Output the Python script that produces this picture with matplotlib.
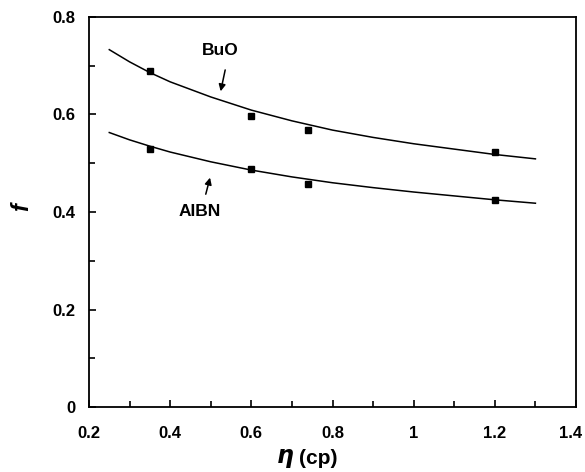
import matplotlib
matplotlib.use("Agg")
import matplotlib.pyplot as plt
from matplotlib.ticker import MultipleLocator, FuncFormatter
from matplotlib.transforms import ScaledTranslation

plt.rcParams['font.family'] = ['Liberation Sans', 'DejaVu Sans']

# measured points
eta_pts = [0.35, 0.60, 0.74, 1.20]
buo_pts = [0.689, 0.597, 0.568, 0.523]
aibn_pts = [0.529, 0.488, 0.457, 0.425]

# fitted curves
eta_curve = [0.25, 0.30, 0.35, 0.40, 0.50, 0.60, 0.70, 0.80, 0.90, 1.00, 1.10, 1.20, 1.30]
buo_curve = [0.733, 0.708, 0.686, 0.667, 0.636, 0.609, 0.587, 0.568, 0.553, 0.540, 0.529, 0.518, 0.509]
aibn_curve = [0.563, 0.548, 0.535, 0.523, 0.503, 0.486, 0.472, 0.460, 0.450, 0.441, 0.433, 0.425, 0.418]

W, H = 585, 472
fig = plt.figure(figsize=(W/100, H/100), dpi=100)
ax = fig.add_axes([89/W, 1 - 407/H, (576-89)/W, (407-17)/H])

ax.plot(eta_curve, buo_curve, color='black', lw=1.1)
ax.plot(eta_curve, aibn_curve, color='black', lw=1.1)
ax.plot(eta_pts, buo_pts, 's', color='black', ms=5)
ax.plot(eta_pts, aibn_pts, 's', color='black', ms=5)

ax.set_xlim(0.2, 1.4)
ax.set_ylim(0, 0.8)
ax.xaxis.set_major_locator(MultipleLocator(0.2))
ax.xaxis.set_minor_locator(MultipleLocator(0.1))
ax.yaxis.set_major_locator(MultipleLocator(0.2))
ax.yaxis.set_minor_locator(MultipleLocator(0.1))

def fmt(v, pos):
    s = f"{v:.1f}"
    if s.endswith(".0"):
        s = s[:-2]
    return s
ax.xaxis.set_major_formatter(FuncFormatter(fmt))
ax.yaxis.set_major_formatter(FuncFormatter(fmt))

ax.tick_params(axis='both', which='both', direction='in', top=False, right=False,
               width=1.2, labelsize=12)
ax.tick_params(axis='both', which='major', length=5)
ax.tick_params(axis='both', which='minor', length=4)
ax.tick_params(axis='x', which='major', pad=14)
ax.tick_params(axis='y', which='major', pad=10)
for sp in ax.spines.values():
    sp.set_linewidth(1.3)

fig.canvas.draw()
for lab in ax.get_xticklabels() + ax.get_yticklabels():
    lab.set_fontweight('bold')
last = [t for t in ax.xaxis.get_major_ticks() if abs(t.get_loc() - 1.4) < 1e-6]
for t in last:
    t.label1.set_transform(t.label1.get_transform() + ScaledTranslation(-5/100, 0, fig.dpi_scale_trans))

ax.text(0.523, 0.732, 'BuO', fontsize=12.5, fontweight='bold', ha='center', va='center')
ax.annotate('', xy=(0.523, 0.642), xytext=(0.537, 0.697),
            arrowprops=dict(arrowstyle='-|>', color='black', lw=1.1, mutation_scale=10))
ax.text(0.473, 0.40, 'AIBN', fontsize=12.5, fontweight='bold', ha='center', va='center')
ax.annotate('', xy=(0.50, 0.476), xytext=(0.486, 0.431),
            arrowprops=dict(arrowstyle='-|>', color='black', lw=1.1, mutation_scale=10))

fig.text(285/W, 1 - 459/H, r'$\boldsymbol{\eta}$', fontsize=17, ha='center', va='center')
fig.text(299/W, 1 - 459/H, '(cp)', fontsize=15, fontweight='bold', ha='left', va='center')
fig.text(22/W, 1 - 207/H, 'f', fontsize=17, fontweight='bold', style='italic',
         rotation=90, ha='center', va='center')

fig.savefig('out.png', dpi=100)
